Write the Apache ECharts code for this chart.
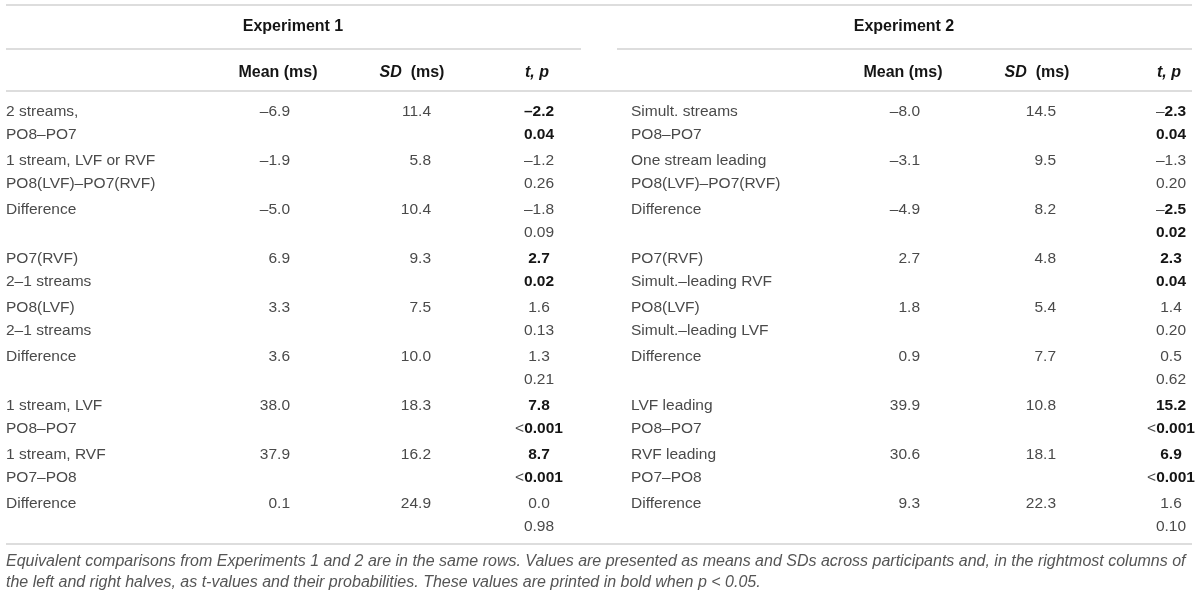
<!DOCTYPE html>
<html lang="en">
<head>
    <meta charset="UTF-8">
    <title>Experiment 1 / Experiment 2</title>
    <style>
        body { margin: 0; overflow: hidden; background: #fff; }
        #chart { width: 1200px; height: 597px; }
    </style>
</head>
<body>
    <div id="chart"></div>
    <script src="https://cdn.jsdelivr.net/npm/echarts@6/dist/echarts.min.js"></script>
    <script>
        // ---- data ----
        var rowIds = ['r0', 'r1', 'r2', 'r3', 'r4', 'r5', 'r6', 'r7', 'r8'];

        var labels1 = [
            ['2 streams,', 'PO8–PO7'],
            ['1 stream, LVF or RVF', 'PO8(LVF)–PO7(RVF)'],
            ['Difference', ''],
            ['PO7(RVF)', '2–1 streams'],
            ['PO8(LVF)', '2–1 streams'],
            ['Difference', ''],
            ['1 stream, LVF', 'PO8–PO7'],
            ['1 stream, RVF', 'PO7–PO8'],
            ['Difference', '']
        ];
        var mean1 = [-6.9, -1.9, -5.0, 6.9, 3.3, 3.6, 38.0, 37.9, 0.1];
        var sd1 = [11.4, 5.8, 10.4, 9.3, 7.5, 10.0, 18.3, 16.2, 24.9];
        var t1 = [-2.2, -1.2, -1.8, 2.7, 1.6, 1.3, 7.8, 8.7, 0.0];
        var p1 = ['0.04', '0.26', '0.09', '0.02', '0.13', '0.21', '<0.001', '<0.001', '0.98'];

        var labels2 = [
            ['Simult. streams', 'PO8–PO7'],
            ['One stream leading', 'PO8(LVF)–PO7(RVF)'],
            ['Difference', ''],
            ['PO7(RVF)', 'Simult.–leading RVF'],
            ['PO8(LVF)', 'Simult.–leading LVF'],
            ['Difference', ''],
            ['LVF leading', 'PO8–PO7'],
            ['RVF leading', 'PO7–PO8'],
            ['Difference', '']
        ];
        var mean2 = [-8.0, -3.1, -4.9, 2.7, 1.8, 0.9, 39.9, 30.6, 9.3];
        var sd2 = [14.5, 9.5, 8.2, 4.8, 5.4, 7.7, 10.8, 18.1, 22.3];
        var t2 = [-2.3, -1.3, -2.5, 2.3, 1.4, 0.5, 15.2, 6.9, 1.6];
        var p2 = ['0.04', '0.20', '0.02', '0.04', '0.20', '0.62', '<0.001', '<0.001', '0.10'];

        var caption = [
            'Equivalent comparisons from Experiments 1 and 2 are in the same rows. Values are presented as means and SDs across participants and, in the rightmost columns of',
            'the left and right halves, as t-values and their probabilities. These values are printed in bold when p < 0.05.'
        ];

        // ---- layout ----
        var FONT = '"Liberation Sans", Arial, sans-serif';
        var LIGHT = '#4a4a4a', DARK = '#151515', RULE = '#d2d2d2';
        var BODY = 15.5, HEAD = 16;
        var halves = [
            { title: 'Experiment 1', mid: 293, rule: [6, 581], label: 6, mean: 290, sd: 431, tp: 539,
              hMean: 278, hSd: 412, boldMinus: true,
              labels: labels1, mean_: mean1, sd_: sd1, t_: t1, p_: p1 },
            { title: 'Experiment 2', mid: 904, rule: [617, 1192], label: 631, mean: 920, sd: 1056, tp: 1171,
              hMean: 903, hSd: 1037, boldMinus: false,
              labels: labels2, mean_: mean2, sd_: sd2, t_: t2, p_: p2 }
        ];

        function fmt(v) {
            return (v < 0 ? '–' : '') + Math.abs(v).toFixed(1);
        }
        function pNum(s) {
            return parseFloat(s.replace('<', ''));
        }

        var rich = { b: { fontFamily: FONT, fontSize: BODY, fontWeight: 'bold', fill: DARK, color: DARK } };

        // one custom series per column, one text pair per row
        function column(name, x, align, cells) {
            return {
                type: 'custom',
                name: name,
                data: cells.map(function (c, i) { return [x, rowIds[i]]; }),
                renderItem: function (params, api) {
                    var i = params.dataIndex;
                    var pt = api.coord([api.value(0), rowIds[i]]);
                    var kids = [];
                    cells[i].forEach(function (txt, k) {
                        if (!txt) return;
                        kids.push({
                            type: 'text',
                            x: pt[0],
                            y: pt[1] + (k === 0 ? -11.5 : 11.5),
                            style: {
                                text: txt, align: align, verticalAlign: 'middle',
                                textAlign: align, textVerticalAlign: 'middle',
                                font: BODY + 'px ' + FONT, fill: LIGHT, rich: rich
                            }
                        });
                    });
                    return { type: 'group', children: kids };
                }
            };
        }

        var series = [];
        halves.forEach(function (h, n) {
            series.push(column('label' + n, h.label, 'left', h.labels));
            series.push(column('mean' + n, h.mean, 'right', h.mean_.map(function (v) { return [fmt(v), '']; })));
            series.push(column('sd' + n, h.sd, 'right', h.sd_.map(function (v) { return [fmt(v), '']; })));
            series.push(column('tp' + n, h.tp, 'center', h.t_.map(function (t, i) {
                var p = h.p_[i];
                if (pNum(p) >= 0.05) return [fmt(t), p];
                var tTxt = (t < 0 && !h.boldMinus) ? '–{b|' + Math.abs(t).toFixed(1) + '}' : '{b|' + fmt(t) + '}';
                var pTxt = p.charAt(0) === '<' ? '<{b|' + p.slice(1) + '}' : '{b|' + p + '}';
                return [tTxt, pTxt];
            })));
        });

        // ---- static frame: rules, headers, caption ----
        function hline(x1, x2, y) {
            return { type: 'line', shape: { x1: x1, y1: y, x2: x2, y2: y }, style: { stroke: RULE, lineWidth: 1.5 } };
        }
        function htext(x, y, text, align) {
            return {
                type: 'text', x: x, y: y,
                style: {
                    text: text, align: align || 'center', verticalAlign: 'middle',
                    font: 'bold ' + HEAD + 'px ' + FONT, fill: DARK,
                    rich: {
                        i: { fontFamily: FONT, fontSize: HEAD, fontWeight: 'bold', fontStyle: 'italic', fill: DARK }
                    }
                }
            };
        }

        var graphics = [hline(6, 1192, 5), hline(6, 1192, 91), hline(6, 1192, 544)];
        halves.forEach(function (h) {
            graphics.push(hline(h.rule[0], h.rule[1], 49));
            graphics.push(htext(h.mid, 27, h.title));
            graphics.push(htext(h.hMean, 73, 'Mean (ms)'));
            graphics.push(htext(h.hSd, 73, '{i|SD}  (ms)'));
            graphics.push(htext(h.tp - 2, 73, '{i|t, p}'));
        });
        caption.forEach(function (line, k) {
            graphics.push({
                type: 'text', x: 6, y: 562 + k * 21,
                style: { text: line, align: 'left', verticalAlign: 'middle', font: 'italic 16px ' + FONT, fill: '#555' }
            });
        });

        var myChart = echarts.init(document.getElementById('chart'));
        var option = {
            animation: false,
            grid: { left: 0, right: 0, top: 99, height: 441 },
            xAxis: { type: 'value', min: 0, max: 1200, show: false },
            yAxis: { type: 'category', data: rowIds, inverse: true, show: false },
            graphic: graphics,
            series: series
        };
        myChart.setOption(option);
    </script>
</body>
</html>
